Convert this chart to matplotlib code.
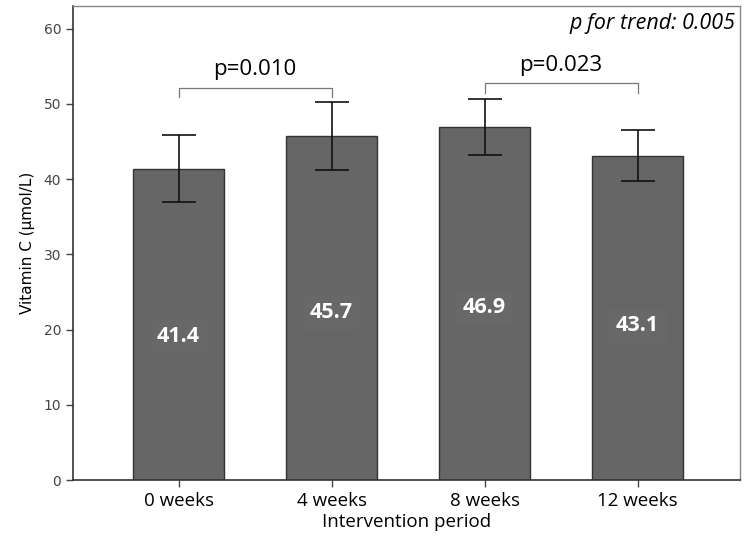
import numpy as np
import matplotlib.pyplot as plt

# 데이터
periods = ['0 weeks', '4 weeks', '8 weeks', '12 weeks']
vit_c = [41.4, 45.7, 46.9, 43.1]
err = [4.4, 4.5, 3.7, 3.4]
label_y = [19.1, 22.2, 22.9, 20.5]
yticks = [0, 10, 20, 30, 40, 50, 60]
pairs = [(0, 1, 'p=0.010', 52.1), (2, 3, 'p=0.023', 52.7)]
trend_text = 'p for trend: 0.005'

txt_font = ['Open Sans', 'DejaVu Sans']

fig = plt.figure(figsize=(7.45, 5.42), dpi=100)
ax = fig.add_axes([73 / 745, 62 / 542, 667 / 745, 474 / 542])

x = np.arange(len(periods))
ax.bar(x, vit_c, width=0.59, color='#666666', edgecolor='#333333', linewidth=1.0, zorder=2)
ax.errorbar(x, vit_c, yerr=err, fmt='none', ecolor='#111111', elinewidth=1.2,
            capsize=12, capthick=1.2, zorder=3)

# 막대 안 값 표시
for xi, v, ly in zip(x, vit_c, label_y):
    ax.text(xi, ly, f'{v:.1f}', ha='center', va='center', color='white',
            fontsize=15.5, fontweight='bold', family=txt_font, zorder=4,
            bbox=dict(boxstyle='square,pad=0.3', fc='#686868', ec='none'))

# 유의성 괄호
for a, b, lab, h in pairs:
    ax.plot([a, a, b, b], [h - 1.2, h, h, h - 1.2], color='#777777', lw=0.9, zorder=3)
    ax.text((a + b) / 2, h + 1.0, lab, ha='center', va='bottom', fontsize=16, family=txt_font)

ax.text(0.993, 0.985, trend_text, transform=ax.transAxes, ha='right', va='top',
        fontsize=15.5, style='italic', family=txt_font)

ax.set_xlim(-0.69, 3.67)
ax.set_ylim(0, 63)
ax.set_yticks(yticks)
ax.set_xticks(x)
ax.set_xticklabels(periods, fontsize=13.5, family=txt_font)
ax.tick_params(axis='y', labelsize=10, colors='#444444', length=5, width=1)
ax.tick_params(axis='x', colors='#444444', length=5, width=1, pad=4)
for lbl in ax.get_xticklabels():
    lbl.set_color('black')
ax.set_xlabel('Intervention period', fontsize=13.5, family=txt_font, labelpad=2)
ax.set_ylabel('Vitamin C (\u03bcmol/L)', fontsize=11, labelpad=6)

for side in ['left', 'bottom']:
    ax.spines[side].set_color('#333333')
    ax.spines[side].set_linewidth(1.2)
for side in ['top', 'right']:
    ax.spines[side].set_color('#888888')
    ax.spines[side].set_linewidth(1.0)

plt.savefig('out.png', dpi=100)
